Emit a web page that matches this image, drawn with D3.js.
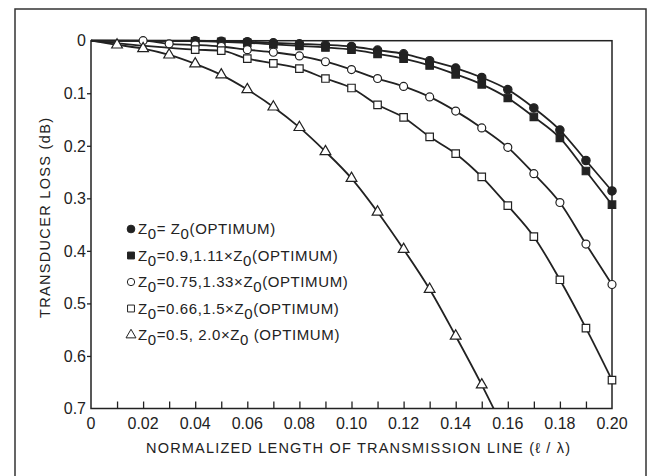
<!DOCTYPE html>
<meta charset="utf-8">
<style>
body { margin: 0; background: #fff; }
text { font-family: "Liberation Sans", Arial, sans-serif; fill: #222; }
</style>
<body>
<script src="https://cdn.jsdelivr.net/npm/d3@7"></script>
<script>

// normalized length l/lambda, 0 .. 0.20 in steps of 0.01
var normLength = [0, 0.01, 0.02, 0.03, 0.04, 0.05, 0.06, 0.07, 0.08, 0.09, 0.10,
                  0.11, 0.12, 0.13, 0.14, 0.15, 0.16, 0.17, 0.18, 0.19, 0.20];

// transducer loss (dB), null where no point is plotted
var lossOptimum = [0, null, null, null, 0.000, 0.001, 0.002, 0.004, 0.006, 0.008, 0.011,
                   0.018, 0.025, 0.038, 0.052, 0.070, 0.093, 0.128, 0.170, 0.228, 0.286];
var loss090 = [0, null, null, null, 0.001, 0.002, 0.004, 0.007, 0.010, 0.013, 0.017,
               0.025, 0.034, 0.047, 0.064, 0.083, 0.109, 0.145, 0.185, 0.248, 0.312];
var loss075 = [0, null, 0.000, 0.006, 0.008, 0.011, 0.017, 0.022, 0.029, 0.040, 0.055,
               0.072, 0.087, 0.107, 0.134, 0.166, 0.203, 0.253, 0.308, 0.387, 0.464];
var loss066 = [0, null, null, null, 0.017, 0.019, 0.034, 0.043, 0.053, 0.072, 0.090,
               0.122, 0.146, 0.183, 0.215, 0.259, 0.314, 0.373, 0.455, 0.547, 0.646];
var loss050 = [0, 0.008, 0.015, 0.027, 0.044, 0.065, 0.093, 0.126, 0.165, 0.211, 0.262,
               0.326, 0.397, 0.473, 0.562, 0.655, 0.755, null, null, null, null];

var xTickLabels = ["0", "0.02", "0.04", "0.06", "0.08", "0.10", "0.12", "0.14", "0.16", "0.18", "0.20"];
var yTickLabels = ["0", "0.1", "0.2", "0.3", "0.4", "0.5", "0.6", "0.7"];

var legendLabels = [
  ["Z", "0", "= Z", "0", "(OPTIMUM)"],
  ["Z", "0", "=0.9,1.11\u00d7Z", "0", "(OPTIMUM)"],
  ["Z", "0", "=0.75,1.33\u00d7Z", "0", "(OPTIMUM)"],
  ["Z", "0", "=0.66,1.5\u00d7Z", "0", "(OPTIMUM)"],
  ["Z", "0", "=0.5, 2.0\u00d7Z", "0", " (OPTIMUM)"]
];

var width = 649, height = 476;
var plotL = 91, plotR = 612, plotT = 40.7, plotB = 408.5;

var series = [
  {values: lossOptimum, shape: d3.symbolCircle, size: 55, fill: "#222"},
  {values: loss090, shape: d3.symbolSquare, size: 56, fill: "#222"},
  {values: loss075, shape: d3.symbolCircle, size: 50, fill: "#fff"},
  {values: loss066, shape: d3.symbolSquare, size: 56, fill: "#fff"},
  {values: loss050, shape: d3.symbolTriangle, size: 50, fill: "#fff"}
];

var x = d3.scaleLinear().domain([0, 0.20]).range([plotL, plotR]);
var y = d3.scaleLinear().domain([0, 0.7]).range([plotT, plotB]);

var svg = d3.select("body").append("svg")
    .attr("width", width)
    .attr("height", height);

svg.append("defs").append("clipPath").attr("id", "plot")
  .append("rect")
    .attr("x", plotL - 6).attr("y", plotT - 6)
    .attr("width", plotR - plotL + 12).attr("height", plotB - plotT + 6);

// outer frame
svg.append("rect")
    .attr("x", 15).attr("y", 9)
    .attr("width", 631).attr("height", 480)
    .attr("fill", "none")
    .attr("stroke", "#333")
    .attr("stroke-width", 1.5);

// plot box
svg.append("rect")
    .attr("x", plotL).attr("y", plotT)
    .attr("width", plotR - plotL).attr("height", plotB - plotT)
    .attr("fill", "none")
    .attr("stroke", "#222")
    .attr("stroke-width", 1.5);

// x axis: minor ticks inside every 0.01, labels every 0.02
var xAxis = d3.axisBottom(x)
    .tickValues(d3.range(1, 20).map(function(i){ return i / 100; }))
    .tickSizeInner(-7).tickSizeOuter(0)
    .tickFormat("");
var gx = svg.append("g").attr("transform", "translate(0," + plotB + ")").call(xAxis);
gx.select(".domain").remove();
gx.selectAll(".tick line").attr("stroke", "#222").attr("stroke-width", 1.3);

svg.append("g").selectAll("text")
  .data(xTickLabels)
  .enter().append("text")
    .attr("x", function(d){ return x(+d); })
    .attr("y", 429)
    .attr("text-anchor", "middle")
    .attr("font-size", 16)
    .text(function(d){ return d; });

// y axis
var yAxis = d3.axisLeft(y)
    .tickValues(yTickLabels.map(Number).slice(1, -1))
    .tickSizeInner(4).tickSizeOuter(0)
    .tickFormat("");
var gy = svg.append("g").attr("transform", "translate(" + plotL + ",0)").call(yAxis);
gy.select(".domain").remove();
gy.selectAll(".tick line").attr("stroke", "#222").attr("stroke-width", 1.3);

svg.append("g").selectAll("text")
  .data(yTickLabels)
  .enter().append("text")
    .attr("x", 86)
    .attr("y", function(d){ return y(+d); })
    .attr("dy", "0.36em")
    .attr("text-anchor", "end")
    .attr("font-size", 16)
    .text(function(d){ return d; });

// axis titles
svg.append("text")
    .attr("x", 358).attr("y", 453)
    .attr("text-anchor", "middle")
    .attr("font-size", 14.5)
    .attr("textLength", 424)
    .attr("lengthAdjust", "spacing")
    .text("NORMALIZED LENGTH OF TRANSMISSION LINE (\u2113 / \u03bb)");

svg.append("text")
    .attr("transform", "translate(50,218) rotate(-90)")
    .attr("text-anchor", "middle")
    .attr("font-size", 14.5)
    .attr("textLength", 200)
    .attr("lengthAdjust", "spacing")
    .text("TRANSDUCER LOSS (dB)");

// curves
var line = d3.line()
    .x(function(d){ return x(d[0]); })
    .y(function(d){ return y(d[1]); })
    .curve(d3.curveMonotoneX);

var plot = svg.append("g").attr("clip-path", "url(#plot)");

series.forEach(function(s){
  var pts = normLength.map(function(l, i){ return [l, s.values[i]]; })
      .filter(function(d){ return d[1] !== null; });
  plot.append("path")
      .datum(pts)
      .attr("d", line)
      .attr("fill", "none")
      .attr("stroke", "#222")
      .attr("stroke-width", 1.8);
});

series.forEach(function(s){
  var pts = normLength.map(function(l, i){ return [l, s.values[i]]; })
      .filter(function(d){ return d[1] !== null && d[0] > 0 && d[1] <= 0.7; });
  plot.selectAll(null)
    .data(pts)
    .enter().append("path")
      .attr("transform", function(d){ return "translate(" + x(d[0]) + "," + y(d[1]) + ")"; })
      .attr("d", d3.symbol().type(s.shape).size(s.size))
      .attr("fill", s.fill)
      .attr("stroke", "#222")
      .attr("stroke-width", 1.2);
});

// legend
var legend = svg.append("g");
legendLabels.forEach(function(parts, i){
  var ly = 229 + i * 26.5;
  var s = series[i];
  legend.append("path")
      .attr("transform", "translate(131," + ly + ")")
      .attr("d", d3.symbol().type(s.shape).size(s.size * 0.85))
      .attr("fill", s.fill)
      .attr("stroke", "#222")
      .attr("stroke-width", 1);
  var t = legend.append("text")
      .attr("x", 138).attr("y", ly + 5)
      .attr("font-size", 15)
      .attr("letter-spacing", 0.6);
  parts.forEach(function(p, j){
    var ts = t.append("tspan").text(p);
    if (j % 2 === 1) ts.attr("dy", 5);
    else if (j > 0) ts.attr("dy", -5);
  });
});

</script>
</body>
